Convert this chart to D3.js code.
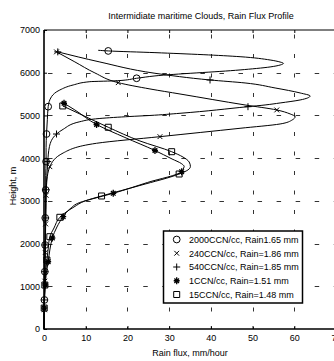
<!DOCTYPE html>
<html><head><meta charset="utf-8">
<script src="https://cdn.jsdelivr.net/npm/d3@7"></script>
<style>
html,body{margin:0;padding:0;background:#fff;}
svg{display:block;}
text{font-family:"Liberation Sans",Arial,sans-serif;fill:#000;}
</style></head>
<body>
<svg id="chart" width="334" height="361"></svg>
<script>
// ---- data ----
const title = "Intermidiate maritime Clouds, Rain Flux Profile";
const xLabel = "Rain flux, mm/hour";
const yLabel = "Height, m";
const xTicks = [0, 10, 20, 30, 40, 50, 60, 70];
const yTicks = [0, 1000, 2000, 3000, 4000, 5000, 6000, 7000];

// 2000 CCN/cc (circles)
const h2000 = [6525,6510,6470,6375,6298,6250,6220,6180,6135,6065,5925,5870,5813,5790,5713,5596,5439,5205,4900,4565,4250,3920,3590,3255,2930,2600,2280,1967,1650,1342,1000,680,300,0];
const v2000 = [13.0,15.4,26.6,47.0,54.2,56.6,57.4,56.6,54.2,47.0,26.6,22.2,17.7,11.0,7.0,3.8,1.8,1.0,0.8,0.6,0.5,0.5,0.4,0.4,0.35,0.3,0.3,0.25,0.2,0.2,0.15,0.1,0.05,0];
const m2000 = [1,11,17,19,21,23,25,27,29,31];

// 240 CCN/cc (x)
const h240 = [6488,6253,5995,5767,5620,5502,5245,5128,5035,4971,4894,4800,4699,4503,4348,4121,3800,3489,3130,2800,2460,2120,1790,1450,1120,800,450,200,0];
const v240 = [3.0,7.4,12.2,17.8,25.4,32.6,48.2,55.8,59.0,60.2,59.5,56.6,47.0,27.8,12.6,4.6,1.4,0.7,0.5,0.45,0.4,0.35,0.3,0.25,0.2,0.15,0.1,0.05,0];
const m240 = [0,3,7,13,16,18,20,22,24,26];

// 540 CCN/cc (+)
const h540 = [6488,6251,5987,5830,5760,5643,5526,5455,5362,5292,5245,5205,5050,4999,4975,4929,4853,4676,4565,4270,3920,3600,3260,2940,2600,2280,1967,1650,1342,1000,680,300,0];
const v540 = [3.3,13.4,26.6,39.8,48.2,55.4,61.4,63.8,61.4,56.6,53.0,48.9,32.6,25.4,20.6,13.4,8.6,4.6,3.0,1.3,0.9,0.7,0.5,0.45,0.4,0.35,0.3,0.25,0.2,0.15,0.1,0.05,0];
const m540 = [0,3,11,18,20,22,24,26,28,30];

// 1 CCN/cc (*)
const h1 = [5285,5128,4788,4484,4179,3980,3875,3805,3735,3683,3430,3177,3044,2962,2810,2630,2388,2131,1850,1576,1335,1030,750,490,0];
const v1 = [4.8,7.4,12.6,19.4,26.6,30.7,32.9,33.6,33.3,33.0,24.8,16.6,11.5,8.6,6.2,4.6,3.1,2.0,1.4,1.0,0.6,0.3,0.15,0.05,0];
const m1 = [0,2,4,9,11,15,17,19,21,23];

// 15 CCN/cc (squares)
const h15 = [5222,5034,4723,4402,4151,4027,3910,3805,3723,3629,3360,3114,2997,2857,2615,2365,2161,1873,1615,1335,1030,750,490,0];
const v15 = [4.5,8.6,15.4,23.0,30.6,33.3,34.8,35.1,34.5,32.4,23.0,13.8,9.8,7.2,3.8,2.4,1.4,1.0,0.7,0.4,0.2,0.1,0.05,0];
const m15 = [0,2,4,9,11,14,16,18,20,22];

const legendLabels = ["2000CCN/cc, Rain1.65 mm","240CCN/cc, Rain=1.86 mm","540CCN/cc, Rain=1.85 mm","1CCN/cc, Rain=1.51 mm","15CCN/cc, Rain=1.48 mm"];

const series = [
  {h:h2000, v:v2000, m:m2000, marker:"circle"},
  {h:h240,  v:v240,  m:m240,  marker:"x"},
  {h:h540,  v:v540,  m:m540,  marker:"plus"},
  {h:h1,    v:v1,    m:m1,    marker:"star"},
  {h:h15,   v:v15,   m:m15,   marker:"square"}
];

// ---- drawing ----
const svg = d3.select("#chart");
const X0 = 44, X1 = 336, Y0 = 329, Y1 = 30;
const x = d3.scaleLinear().domain([0,70]).range([X0,X1]);
const y = d3.scaleLinear().domain([0,7000]).range([Y0,Y1]);

svg.append("rect").attr("width",334).attr("height",361).attr("fill","#fff");

// grid
const grid = svg.append("g").attr("stroke","#333").attr("stroke-width",1).attr("fill","none");
yTicks.filter(t=>t>0 && t<7000).forEach(t=>{
  const yy = Math.round(y(t))+0.5;
  grid.append("path").attr("d",`M${X1},${yy}H${X0}`)
    .attr("stroke-dasharray","4.5 14.55").attr("stroke-dashoffset",2.25);
});
xTicks.filter(t=>t>0 && t<70).forEach(t=>{
  const xx = Math.round(x(t))+0.5;
  grid.append("path").attr("d",`M${xx},${Y0}V${Y1}`)
    .attr("stroke-dasharray","4 15.5").attr("stroke-dashoffset",2);
});

// axes
const xAxis = d3.axisBottom(x).tickValues(xTicks).tickFormat(d3.format("d")).tickSizeInner(-3).tickSizeOuter(0).tickPadding(6);
const gx = svg.append("g").attr("transform",`translate(0,${Y0})`).call(xAxis);
gx.select(".domain").remove();
gx.selectAll("text").attr("font-size",9).attr("font-family","Liberation Sans, Arial, sans-serif").attr("fill","#000");
gx.selectAll("line").attr("stroke","#000");

const xAxisTop = d3.axisTop(x).tickValues(xTicks).tickSizeInner(-3).tickSizeOuter(0).tickFormat("");
const gxt = svg.append("g").attr("transform",`translate(0,${Y1})`).call(xAxisTop);
gxt.select(".domain").remove();
gxt.selectAll("line").attr("stroke","#000");

const yAxis = d3.axisLeft(y).tickValues(yTicks).tickFormat(d3.format("d")).tickSizeInner(-3).tickSizeOuter(0).tickPadding(4);
const gy = svg.append("g").attr("transform",`translate(${X0},0)`).call(yAxis);
gy.select(".domain").remove();
gy.selectAll("text").attr("font-size",9).attr("font-family","Liberation Sans, Arial, sans-serif").attr("fill","#000");
gy.selectAll("line").attr("stroke","#000");

// frame
svg.append("path").attr("d",`M${X0},${Y1}H${X1}`).attr("stroke","#000").attr("stroke-width",1).attr("fill","none");
svg.append("path").attr("d",`M${X0},${Y1}V${Y0}H${X1}`).attr("stroke","#000").attr("stroke-width",1.6).attr("fill","none");

// curves
const line = d3.line().x(d=>x(d[1])).y(d=>y(d[0])).curve(d3.curveMonotoneY);
function markerPath(type){
  switch(type){
    case "x": return "M-2.4,-2.4L2.4,2.4M-2.4,2.4L2.4,-2.4";
    case "plus": return "M-3.5,0L3.5,0M0,-3.5L0,3.5";
    case "star": return "M-3,0L3,0M0,-3.5L0,3.5M-2.3,-2.3L2.3,2.3M-2.3,2.3L2.3,-2.3";
    case "square": return "M-3,-3H3V3H-3Z";
    default: return d3.symbol(d3.symbolCircle, 36)();
  }
}
const plot = svg.append("g");
series.forEach(s=>{
  const pts = s.h.map((h,i)=>[h, s.v[i]]);
  plot.append("path").attr("d",line(pts)).attr("fill","none").attr("stroke","#000").attr("stroke-width",1);
});
series.forEach(s=>{
  s.m.forEach(i=>{
    plot.append("path").attr("d",markerPath(s.marker))
      .attr("transform",`translate(${x(s.v[i])},${y(s.h[i])})`)
      .attr("fill","none").attr("stroke","#000").attr("stroke-width", s.marker==="star"?1.3:1);
  });
});

// legend
const lg = svg.append("g");
lg.append("rect").attr("x",163.5).attr("y",231).attr("width",139).attr("height",72)
  .attr("fill","#fff").attr("stroke","#000").attr("stroke-width",1.5);
series.forEach((s,i)=>{
  const cy = 239.5 + i*13.75;
  lg.append("path").attr("d",markerPath(s.marker)).attr("transform",`translate(176.7,${cy})`)
    .attr("fill","none").attr("stroke","#000").attr("stroke-width", s.marker==="star"?1.3:1);
  lg.append("text").attr("x",189).attr("y",cy+3.3).attr("font-size",9).text(legendLabels[i]);
});

// titles
svg.append("text").attr("x",201).attr("y",19).attr("text-anchor","middle").attr("font-size",9).text(title);
svg.append("text").attr("x",190).attr("y",356).attr("text-anchor","middle").attr("font-size",9).text(xLabel);
svg.append("text").attr("transform","translate(16,186) rotate(-90)").attr("text-anchor","middle").attr("font-size",9).text(yLabel);
</script>
</body></html>
